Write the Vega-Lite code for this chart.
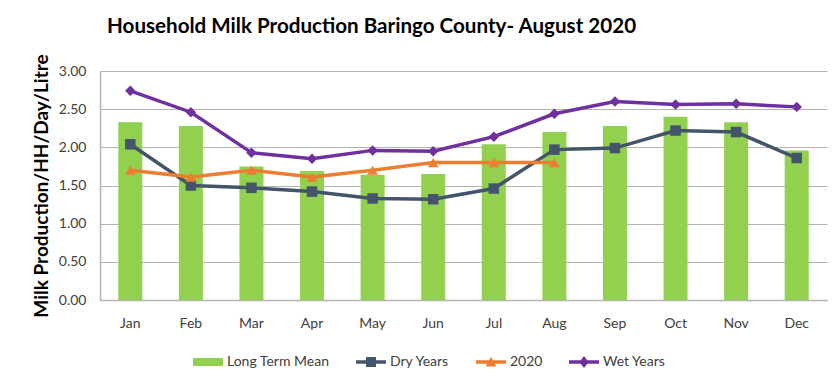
{
  "$schema": "https://vega.github.io/schema/vega-lite/v6.json",
  "autosize": "none",
  "width": 727,
  "height": 229,
  "padding": {"left": 100, "top": 71, "right": 8, "bottom": 85},
  "background": "white",
  "title": {
    "text": "Household Milk Production Baringo County- August 2020",
    "anchor": "start",
    "frame": "group",
    "dx": 7,
    "offset": 0,
    "baseline": "alphabetic",
    "font": "Lato",
    "fontSize": 20.6,
    "fontWeight": "bold",
    "color": "#000000"
  },
  "config": {
    "view": {"stroke": null},
    "font": "Lato"
  },
  "data": {
    "values": [
      {"month": "Jan", "series": "Long Term Mean", "value": 2.33},
      {"month": "Feb", "series": "Long Term Mean", "value": 2.28},
      {"month": "Mar", "series": "Long Term Mean", "value": 1.75},
      {"month": "Apr", "series": "Long Term Mean", "value": 1.69},
      {"month": "May", "series": "Long Term Mean", "value": 1.64},
      {"month": "Jun", "series": "Long Term Mean", "value": 1.65},
      {"month": "Jul", "series": "Long Term Mean", "value": 2.04},
      {"month": "Aug", "series": "Long Term Mean", "value": 2.2},
      {"month": "Sep", "series": "Long Term Mean", "value": 2.28},
      {"month": "Oct", "series": "Long Term Mean", "value": 2.4},
      {"month": "Nov", "series": "Long Term Mean", "value": 2.33},
      {"month": "Dec", "series": "Long Term Mean", "value": 1.96},
      {"month": "Jan", "series": "Dry Years", "value": 2.04},
      {"month": "Feb", "series": "Dry Years", "value": 1.5},
      {"month": "Mar", "series": "Dry Years", "value": 1.47},
      {"month": "Apr", "series": "Dry Years", "value": 1.42},
      {"month": "May", "series": "Dry Years", "value": 1.33},
      {"month": "Jun", "series": "Dry Years", "value": 1.32},
      {"month": "Jul", "series": "Dry Years", "value": 1.46},
      {"month": "Aug", "series": "Dry Years", "value": 1.97},
      {"month": "Sep", "series": "Dry Years", "value": 1.99},
      {"month": "Oct", "series": "Dry Years", "value": 2.22},
      {"month": "Nov", "series": "Dry Years", "value": 2.2},
      {"month": "Dec", "series": "Dry Years", "value": 1.86},
      {"month": "Jan", "series": "2020", "value": 1.7},
      {"month": "Feb", "series": "2020", "value": 1.61},
      {"month": "Mar", "series": "2020", "value": 1.7},
      {"month": "Apr", "series": "2020", "value": 1.61},
      {"month": "May", "series": "2020", "value": 1.7},
      {"month": "Jun", "series": "2020", "value": 1.8},
      {"month": "Jul", "series": "2020", "value": 1.8},
      {"month": "Aug", "series": "2020", "value": 1.8},
      {"month": "Jan", "series": "Wet Years", "value": 2.74},
      {"month": "Feb", "series": "Wet Years", "value": 2.46},
      {"month": "Mar", "series": "Wet Years", "value": 1.93},
      {"month": "Apr", "series": "Wet Years", "value": 1.85},
      {"month": "May", "series": "Wet Years", "value": 1.96},
      {"month": "Jun", "series": "Wet Years", "value": 1.95},
      {"month": "Jul", "series": "Wet Years", "value": 2.14},
      {"month": "Aug", "series": "Wet Years", "value": 2.44},
      {"month": "Sep", "series": "Wet Years", "value": 2.6},
      {"month": "Oct", "series": "Wet Years", "value": 2.56},
      {"month": "Nov", "series": "Wet Years", "value": 2.57},
      {"month": "Dec", "series": "Wet Years", "value": 2.53}
    ]
  },
  "encoding": {
    "x": {
      "field": "month",
      "type": "ordinal",
      "sort": ["Jan","Feb","Mar","Apr","May","Jun","Jul","Aug","Sep","Oct","Nov","Dec"],
      "scale": {"paddingInner": 0, "paddingOuter": 0},
      "axis": {
        "title": null,
        "labelAngle": 0,
        "ticks": false,
        "domainColor": "#b4b4b4",
        "domainWidth": 1.5,
        "labelFont": "Lato",
        "labelFontSize": 14,
        "labelColor": "#404040",
        "labelPadding": 16,
        "grid": false
      }
    },
    "y": {
      "field": "value",
      "type": "quantitative",
      "scale": {"domain": [0, 3], "nice": false},
      "axis": {
        "title": "Milk Production/HH/Day/Litre",
        "titleFont": "Lato",
        "titleFontSize": 19,
        "titleFontWeight": "bold",
        "titleColor": "#000000",
        "titlePadding": 7,
        "values": [0, 0.5, 1, 1.5, 2, 2.5, 3],
        "format": ".2f",
        "ticks": false,
        "domainColor": "#b4b4b4",
        "domainWidth": 1.5,
        "gridColor": "#b4b4b4",
        "gridWidth": 1.2,
        "labelFont": "Lato",
        "labelFontSize": 14,
        "labelColor": "#404040",
        "labelPadding": 14
      }
    },
    "color": {
      "field": "series",
      "type": "nominal",
      "scale": {
        "domain": ["Long Term Mean", "Dry Years", "2020", "Wet Years"],
        "range": ["#92D050", "#44546A", "#ED7D31", "#7030A0"]
      },
      "legend": {
        "title": null,
        "orient": "none",
        "legendX": 93,
        "legendY": 276,
        "direction": "horizontal",
        "symbolSize": 900,
        "labelFont": "Lato",
        "labelFontSize": 14,
        "labelColor": "#404040",
        "labelOffset": 4,
        "columnPadding": 26,
        "encode": {
          "symbols": {
            "update": {
              "shape": {"signal": "datum.value === 'Long Term Mean' ? 'M-1,-0.27H1V0.27H-1Z' : datum.value === 'Dry Years' ? 'M-1,-0.12H1V0.12H-1Z M-0.33,-0.33H0.33V0.33H-0.33Z' : datum.value === '2020' ? 'M-1,-0.12H1V0.12H-1Z M-0.35,0.3L0,-0.35L0.35,0.3Z' : 'M-1,-0.12H1V0.12H-1Z M0,-0.4L0.3,0L0,0.4L-0.3,0Z'"},
              "fill": {"signal": "scale('color', datum.value)"},
              "stroke": {"value": "transparent"},
              "strokeWidth": {"value": 0},
              "opacity": {"value": 1}
            }
          }
        }
      }
    }
  },
  "layer": [
    {
      "transform": [{"filter": "datum.series === 'Long Term Mean'"}],
      "mark": {"type": "bar", "size": 24}
    },
    {
      "transform": [{"filter": "datum.series !== 'Long Term Mean'"}],
      "mark": {"type": "line", "strokeWidth": 3.5},
      "encoding": {"detail": {"field": "series"}}
    },
    {
      "transform": [{"filter": "datum.series !== 'Long Term Mean'"}],
      "mark": {"type": "point", "filled": true, "opacity": 1, "size": 110},
      "encoding": {
        "shape": {
          "field": "series",
          "type": "nominal",
          "scale": {
            "domain": ["Dry Years", "2020", "Wet Years"],
            "range": ["square", "triangle-up", "diamond"]
          },
          "legend": null
        }
      }
    }
  ]
}
